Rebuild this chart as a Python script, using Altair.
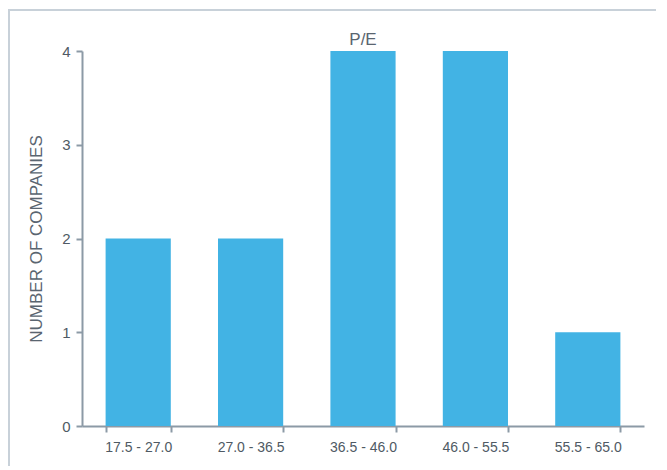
import altair as alt
import pandas as pd

ranges = ["17.5 - 27.0", "27.0 - 36.5", "36.5 - 46.0", "46.0 - 55.5", "55.5 - 65.0"]
counts = [2, 2, 4, 4, 1]
y_ticks = [0, 1, 2, 3, 4]
chart_title = "P/E"

df = pd.DataFrame({"range": ranges, "count": counts})

W, H = 562, 375
PL, PT, PR, PB = 74, 43, 12, 40
FONT = "Liberation Sans"
AXIS_COLOR = "#8c9aa6"
LABEL_COLOR = "#4f5a64"
BORDER = "#c8d1d9"

bars = alt.Chart(df).mark_bar(color="#42b3e4").encode(
    x=alt.X(
        "range:N",
        sort=ranges,
        title=None,
        scale=alt.Scale(paddingInner=0.42, paddingOuter=0.21),
        axis=alt.Axis(
            labelAngle=0,
            tickBand="extent",
            labelFont=FONT,
            labelFontSize=14,
            labelColor=LABEL_COLOR,
            domainColor=AXIS_COLOR,
            tickColor=AXIS_COLOR,
            domainWidth=2,
            tickWidth=2,
            tickSize=6,
            labelPadding=8,
            grid=False,
        ),
    ),
    y=alt.Y(
        "count:Q",
        title="NUMBER OF COMPANIES",
        scale=alt.Scale(domain=[0, 4], nice=False),
        axis=alt.Axis(
            values=y_ticks,
            format="d",
            labelFont=FONT,
            labelFontSize=15,
            labelColor=LABEL_COLOR,
            titleFont=FONT,
            titleFontSize=17,
            titleFontWeight="normal",
            titleColor="#5a6570",
            titlePadding=16,
            domainColor=AXIS_COLOR,
            tickColor=AXIS_COLOR,
            domainWidth=2,
            tickWidth=2,
            tickSize=6,
            labelPadding=6,
            grid=False,
        ),
    ),
)

one = pd.DataFrame({"k": [0]})
title_text = alt.Chart(one).mark_text(
    font=FONT, fontSize=17, color="#5a6570", baseline="alphabetic", align="center"
).encode(x=alt.value(W / 2), y=alt.value(-6), text=alt.value(chart_title))

top_border = alt.Chart(one).mark_rule(color=BORDER, strokeWidth=2).encode(
    x=alt.value(-PL), x2=alt.value(W + PR), y=alt.value(-PT + 2)
)
left_border = alt.Chart(one).mark_rule(color=BORDER, strokeWidth=2).encode(
    x=alt.value(-PL + 1), y=alt.value(-PT + 1), y2=alt.value(H + PB)
)

chart = alt.layer(bars, title_text, top_border, left_border).properties(
    width=W,
    height=H,
    background="white",
    autosize=alt.AutoSizeParams(type="none"),
    padding={"left": PL, "top": PT, "right": PR, "bottom": PB},
).configure_view(strokeWidth=0, stroke="transparent")

chart.save("out.html", embed_options={"renderer": "svg", "actions": False})
